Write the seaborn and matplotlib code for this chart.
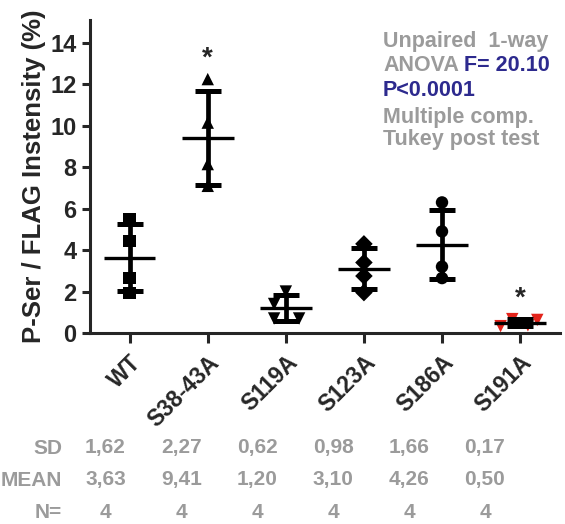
import numpy as np
import pandas as pd
import matplotlib
matplotlib.use('Agg')
import matplotlib.pyplot as plt
import seaborn as sns

## data
groups = ['WT', 'S38-43A', 'S119A', 'S123A', 'S186A', 'S191A']
wt = [5.5, 4.45, 2.65, 1.92]
s38 = [12.25, 10.15, 8.15, 7.1]
s119 = [2.0, 1.4, 0.7, 0.7]
s123 = [4.3, 3.4, 2.75, 1.95]
s186 = [6.3, 4.9, 3.2, 2.65]
s191 = [0.67, 0.33, 0.37, 0.63]
# horizontal spread of overlapping points
spread = [[0, 0, 0, 0], [0, 0, 0, 0], [0, -0.15, -0.15, 0.17],
          [0, 0, 0, 0], [0, 0, 0, 0], [-0.1, -0.25, 0.1, 0.22]]
mean_vals = [3.63, 9.41, 1.20, 3.10, 4.26, 0.50]
sd_vals = [1.62, 2.27, 0.62, 0.98, 1.66, 0.17]
n_vals = [4, 4, 4, 4, 4, 4]
signif = ['', '*', '', '', '', '*']

markers = ['s', '^', 'v', 'D', 'o', 'v']
colors = ['black', 'black', 'black', 'black', 'black', '#e3241b']

rows = []
for i, vals in enumerate([wt, s38, s119, s123, s186, s191]):
    for j, v in enumerate(vals):
        rows.append({'group': groups[i], 'pos': i + spread[i][j], 'value': v})
df = pd.DataFrame(rows)

sns.set_style('ticks')
plt.rcParams['font.family'] = ['Liberation Sans', 'DejaVu Sans']
plt.rcParams['font.weight'] = 'bold'

fig = plt.figure(figsize=(5.65, 5.24), dpi=100)
ax = fig.add_axes([0.159, 0.3645, 0.832, 0.5973])

for i, g in enumerate(groups):
    sub = df[df['group'] == g]
    sns.scatterplot(data=sub, x='pos', y='value', marker=markers[i], color=colors[i],
                    s=80, edgecolor='none', ax=ax, zorder=2, legend=False)

# mean +- SD
ax.errorbar(range(len(groups)), mean_vals, yerr=sd_vals, fmt='none', ecolor='black',
            elinewidth=3.4, capsize=9.5, capthick=3.6, zorder=3)
ax.hlines(mean_vals, np.arange(len(groups)) - 0.33, np.arange(len(groups)) + 0.33,
          color='black', lw=2.4, zorder=3)

for i, s in enumerate(signif):
    if s:
        top = max(df[df['group'] == groups[i]]['value'])
        ax.text(i, top + 1.0, s, ha='center', va='center', fontsize=20, fontweight='bold')

ax.set_xlim(-0.51, 5.51)
ax.set_ylim(0, 15.1)
ax.set_yticks(range(0, 15, 2))
ax.set_xticks(range(len(groups)))
ax.set_xticklabels(groups, rotation=45, ha='right', rotation_mode='anchor',
                   fontsize=16.5, fontweight='bold')
ax.tick_params(axis='y', labelsize=17, width=2.2, length=6)
ax.tick_params(axis='x', width=2.2, length=7, pad=6)
ax.set_xlabel('')
ax.set_ylabel('P-Ser / FLAG Instensity (%)', fontsize=18.5, fontweight='bold', labelpad=3)
sns.despine(ax=ax)
for sp in ['left', 'bottom']:
    ax.spines[sp].set_linewidth(2.2)

# statistics text, top right
grey = '#9b9b9b'
blue = '#2d2a8e'
W, H = 565, 524
def ftext(x, y, s, c, size=15.5, ha='left'):
    fig.text(x / W, 1 - y / H, s, color=c, fontsize=size, fontweight='bold', ha=ha, va='center')

ftext(383, 41, 'Unpaired  1-way', grey)
ftext(383, 66, 'ANOVA', grey)
ftext(464, 66, 'F= 20.10', blue)
ftext(383, 91, 'P<0.0001', blue)
ftext(383, 117, 'Multiple comp.', grey)
ftext(383, 140, 'Tukey post test', grey)

# table under the axis
row_y = [448, 480, 512]
row_names = ['SD', 'MEAN', 'N=']
row_vals = [['%.2f' % v for v in sd_vals], ['%.2f' % v for v in mean_vals],
            [str(v) for v in n_vals]]
blend = matplotlib.transforms.blended_transform_factory(ax.transData, fig.transFigure)
for r in range(3):
    ftext(62, row_y[r], row_names[r], grey, size=15, ha='right')
    for i, txt in enumerate(row_vals[r]):
        ax.text(i * 0.972 - 0.31, 1 - row_y[r] / H, txt.replace('.', ','), transform=blend,
                ha='center', va='center', fontsize=15, fontweight='bold', color=grey)

fig.savefig('out.png', dpi=100)
